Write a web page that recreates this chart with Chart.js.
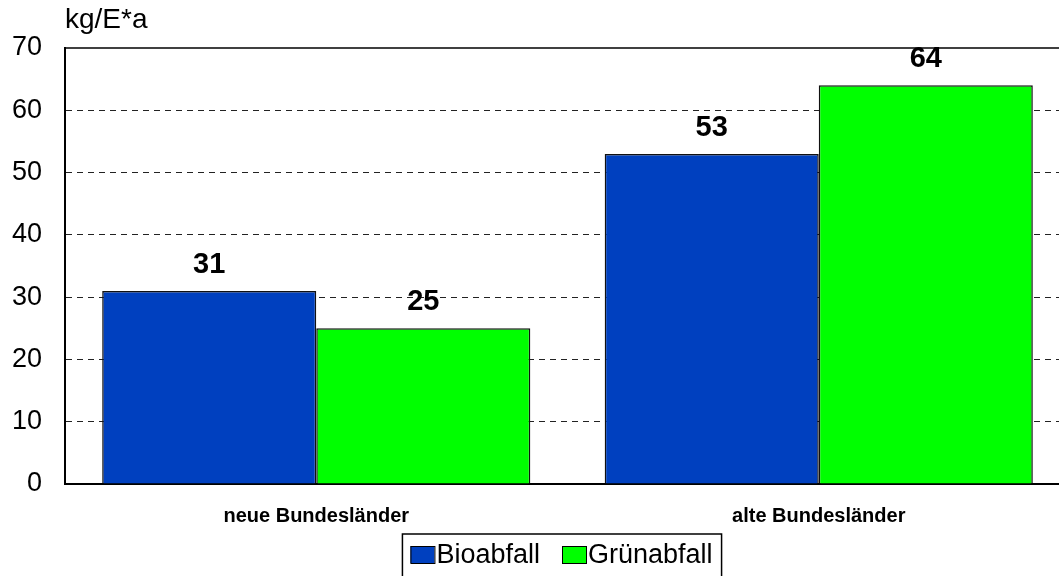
<!DOCTYPE html>
<html>
<head>
<meta charset="utf-8">
<script src="https://cdn.jsdelivr.net/npm/chart.js@4.4.0/dist/chart.umd.min.js"></script>
<style>
    html, body { margin: 0; padding: 0; background: #fff; overflow: hidden; }
    #wrap { width: 1059px; height: 576px; overflow: hidden; }
</style>
</head>
<body>
<div id="wrap"><canvas id="grafico" width="1075" height="576"></canvas></div>
<script>
// dados
const categorias = ['neue Bundesländer', 'alte Bundesländer'];
const bioabfall = [31, 53];
const gruenabfall = [25, 64];
const nomesSeries = ['Bioabfall', 'Grünabfall'];
const coresSeries = ['#0040BF', '#00FF00'];
const unidade = 'kg/E*a';
const eixoMax = 70;

const fonte = '"Liberation Sans", Arial, sans-serif';

// moldura de cima, rotulos, unidade e legenda
const extras = {
    id: 'extras',
    afterDatasetsDraw(chart) {
        const ctx = chart.ctx;
        const area = chart.chartArea;
        ctx.save();

        // linha de cima
        ctx.strokeStyle = '#000';
        ctx.lineWidth = 1.5;
        ctx.beginPath();
        ctx.moveTo(area.left, area.top);
        ctx.lineTo(area.right, area.top);
        ctx.stroke();

        // valores em cima das barras
        ctx.fillStyle = '#000';
        ctx.font = 'bold 29px ' + fonte;
        ctx.textAlign = 'center';
        ctx.textBaseline = 'middle';
        chart.data.datasets.forEach(function(ds, i) {
            chart.getDatasetMeta(i).data.forEach(function(bar, j) {
                ctx.fillText(ds.data[j], bar.x, bar.y - 26);
            });
        });

        // unidade
        ctx.font = '28px ' + fonte;
        ctx.textAlign = 'left';
        ctx.fillText(unidade, area.left, 20);

        // legenda
        ctx.font = '27px ' + fonte;
        let larguras = chart.data.datasets.map(ds => ctx.measureText(ds.label).width);
        let total = 8 + 8;
        larguras.forEach(function(w, i) {
            total += 27 + w + (i < larguras.length - 1 ? 21 : 0);
        });
        let x0 = 562 - total / 2;
        let y0 = 534;
        ctx.strokeStyle = '#000';
        ctx.lineWidth = 1.5;
        ctx.strokeRect(x0, y0, total, 60);
        let x = x0 + 8;
        chart.data.datasets.forEach(function(ds, i) {
            ctx.fillStyle = ds.backgroundColor;
            ctx.fillRect(x, 546, 24, 17);
            ctx.lineWidth = 1;
            ctx.strokeStyle = '#000';
            ctx.strokeRect(x + 0.5, 546.5, 24, 17);
            ctx.fillStyle = '#000';
            ctx.fillText(ds.label, x + 26, 556);
            x += 27 + larguras[i] + 21;
        });

        ctx.restore();
    }
};

const ctx = document.getElementById('grafico').getContext('2d');

new Chart(ctx, {
    type: 'bar',
    data: {
        labels: categorias,
        datasets: [{
            label: nomesSeries[0],
            data: bioabfall,
            backgroundColor: coresSeries[0],
            borderColor: '#111',
            borderWidth: 1.5
        }, {
            label: nomesSeries[1],
            data: gruenabfall,
            backgroundColor: coresSeries[1],
            borderColor: '#111',
            borderWidth: 1.5
        }]
    },
    options: {
        responsive: false,
        animation: false,
        categoryPercentage: 0.852,
        barPercentage: 1,
        layout: {
            padding: { top: 48, right: 5, bottom: 0, left: 0 }
        },
        plugins: {
            legend: { display: false },
            tooltip: { enabled: false }
        },
        scales: {
            x: {
                grid: { display: false },
                border: { display: true, color: '#000', width: 2 },
                ticks: {
                    color: '#000',
                    padding: 12,
                    font: { family: fonte, size: 20, weight: 'bold' }
                },
                afterFit(scale) { scale.height = 92; }
            },
            y: {
                min: 0,
                max: eixoMax,
                ticks: {
                    stepSize: 10,
                    color: '#000',
                    padding: 23,
                    font: { family: fonte, size: 27 }
                },
                grid: {
                    drawTicks: false,
                    color: function(c) {
                        if (c.tick && (c.tick.value === 0 || c.tick.value === eixoMax)) return 'rgba(0,0,0,0)';
                        return '#222';
                    },
                    lineWidth: 1
                },
                border: { display: true, color: '#000', width: 2, dash: [6, 5] },
                afterFit(scale) { scale.width = 65; }
            }
        }
    },
    plugins: [extras]
});
</script>
</body>
</html>
